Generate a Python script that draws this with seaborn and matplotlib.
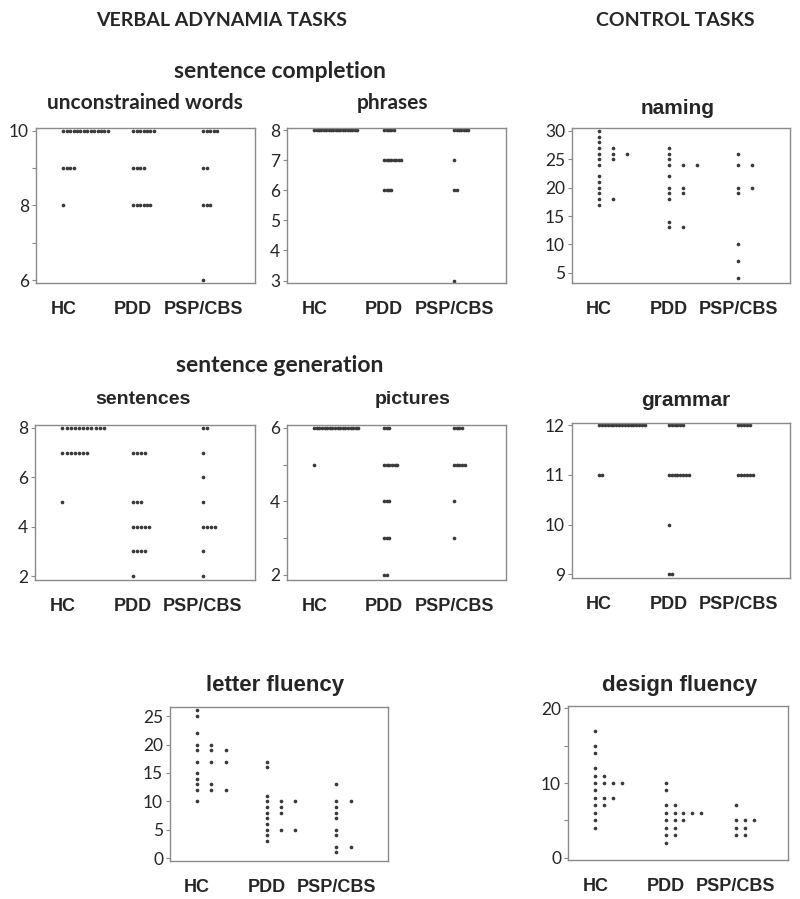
import numpy as np
import pandas as pd
import seaborn as sns
import matplotlib.pyplot as plt

sns.set_theme(style="white")
plt.rcParams["font.family"] = ["Lato", "DejaVu Sans"]

groups = ["HC", "PDD", "PSP/CBS"]

# sentence completion - unconstrained words
words_hc = [10] * 14 + [9] * 4 + [8]
words_pdd = [10] * 7 + [9] * 4 + [8] * 6
words_psp = [10] * 5 + [9] * 2 + [8] * 3 + [6]

# sentence completion - phrases
phrases_hc = [8] * 19
phrases_pdd = [8] * 5 + [7] * 8 + [6] * 4
phrases_psp = [8] * 7 + [7] + [6] * 2 + [3]

# naming
naming_hc = [30, 29, 28, 27, 26, 25, 24, 22, 21, 20, 19, 18, 17, 27, 26, 25, 18, 26]
naming_pdd = [27, 26, 25, 24, 22, 20, 19, 18, 14, 13, 24, 20, 19, 13, 24]
naming_psp = [26, 24, 20, 19, 10, 7, 4, 24, 20]

# sentence generation - sentences
sentences_hc = [8] * 11 + [7] * 7 + [5]
sentences_pdd = [7] * 4 + [5] * 3 + [4] * 5 + [3] * 4 + [2]
sentences_psp = [8] * 2 + [7, 6, 5] + [4] * 4 + [3, 2]

# sentence generation - pictures
pictures_hc = [6] * 18 + [5]
pictures_pdd = [6] * 3 + [5] * 6 + [4] * 3 + [3] * 3 + [2] * 2
pictures_psp = [6] * 4 + [5] * 5 + [4, 3]

# grammar
grammar_hc = [12] * 17 + [11] * 2
grammar_pdd = [12] * 6 + [11] * 8 + [10] + [9] * 2
grammar_psp = [12] * 5 + [11] * 6

# letter fluency
letter_hc = [26, 25, 22, 20, 19, 17, 15, 14, 13, 12, 10, 20, 19, 17, 13, 12, 19, 17, 12]
letter_pdd = [17, 16, 11, 10, 9, 8, 7, 6, 5, 4, 3, 10, 9, 8, 5, 10, 5]
letter_psp = [13, 10, 9, 8, 7, 5, 4, 2, 1, 10, 2]

# design fluency
design_hc = [17, 15, 14, 12, 11, 10, 9, 8, 7, 6, 5, 4, 11, 10, 8, 7, 10, 8, 10]
design_pdd = [10, 9, 7, 6, 5, 4, 3, 2, 7, 6, 5, 4, 3, 6, 5, 6, 6]
design_psp = [7, 5, 4, 3, 5, 4, 3, 5]

W, H = 800, 899
fig = plt.figure(figsize=(W / 100, H / 100), dpi=100)

DOT = "#3a3a3a"
FRAME = "#8a8a8a"
ARIAL = ["Liberation Sans", "DejaVu Sans"]


def dotplot(box, data, step, ylim, ticks, minor=None):
    x0, y0, x1, y1 = box
    ax = fig.add_axes([x0 / W, 1 - y1 / H, (x1 - x0) / W, (y1 - y0) / H])
    rows = []
    for i, vals in enumerate(data):
        counts = pd.Series(vals).value_counts()
        for v, c in counts.items():
            for k in range(c):
                rows.append({"x": i + k * step, "y": v})
    df = pd.DataFrame(rows)
    sns.scatterplot(data=df, x="x", y="y", ax=ax, color=DOT, s=7,
                    linewidth=0, legend=False)
    ax.set_xlim(-0.39, 2.74)
    ax.set_ylim(*ylim)
    ax.set_xticks(range(3))
    ax.set_xticklabels(groups, fontsize=13, fontweight="bold", family=ARIAL)
    ax.set_yticks(ticks)
    ax.set_yticklabels([str(t) for t in ticks], fontsize=12.5)
    if minor is not None:
        ax.set_yticks(minor, minor=True)
    ax.tick_params(axis="x", length=2, pad=11, color=FRAME)
    ax.tick_params(axis="y", which="both", length=3, width=0.8, pad=2,
                   color=FRAME, left=True)
    ax.set_xlabel("")
    ax.set_ylabel("")
    for s in ax.spines.values():
        s.set_color(FRAME)
        s.set_linewidth(1.0)
    return ax


dotplot((36, 128, 255, 283), [words_hc, words_pdd, words_psp], 0.049,
        (5.92, 10.08), [6, 8, 10], [7, 9])
dotplot((287, 128, 506, 283), [phrases_hc, phrases_pdd, phrases_psp], 0.034,
        (2.92, 8.07), [3, 4, 5, 6, 7, 8])
dotplot((572, 128, 790, 283), [naming_hc, naming_pdd, naming_psp], 0.2,
        (3.2, 30.5), [5, 10, 15, 20, 25, 30])
dotplot((35, 425, 255, 580), [sentences_hc, sentences_pdd, sentences_psp], 0.059,
        (1.84, 8.12), [2, 4, 6, 8])
dotplot((287, 425, 506, 580), [pictures_hc, pictures_pdd, pictures_psp], 0.037,
        (1.86, 6.08), [2, 4, 6], [3, 5])
dotplot((572, 423, 790, 578), [grammar_hc, grammar_pdd, grammar_psp], 0.041,
        (8.92, 12.05), [9, 10, 11, 12])
dotplot((170, 707, 388, 861), [letter_hc, letter_pdd, letter_psp], 0.205,
        (-0.5, 26.6), [0, 5, 10, 15, 20, 25])
dotplot((568, 706, 788, 860), [design_hc, design_pdd, design_psp], 0.126,
        (-0.3, 20.3), [0, 10, 20], [5, 15])


def label(x, y, s, size, family=None, weight="bold"):
    fig.text(x / W, 1 - y / H, s, ha="center", va="center", fontsize=size,
             fontweight=weight, family=family or ["Lato", "DejaVu Sans"])


label(222, 20, "VERBAL ADYNAMIA TASKS", 14)
label(675, 20, "CONTROL TASKS", 14)
label(280, 72, "sentence completion", 16.5)
label(145, 103, "unconstrained words", 15)
label(392, 103, "phrases", 15)
label(678, 108, "naming", 15, ARIAL)
label(280, 366, "sentence generation", 16.5)
label(143, 400, "sentences", 14, ARIAL)
label(413, 400, "pictures", 14, ARIAL)
label(686, 400, "grammar", 15, ARIAL)
label(275, 685, "letter fluency", 16, ARIAL)
label(680, 685, "design fluency", 16, ARIAL)

fig.savefig("out.png", dpi=100, facecolor="white")
